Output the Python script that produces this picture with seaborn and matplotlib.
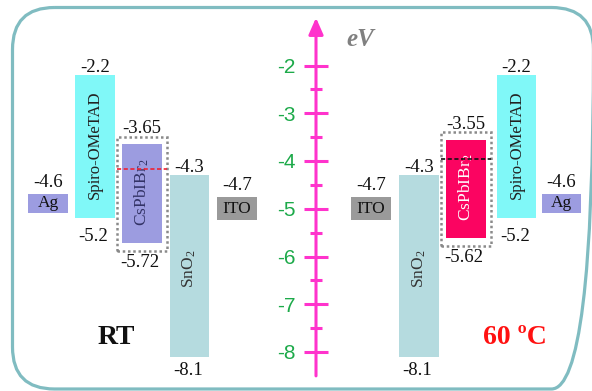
import numpy as np
import pandas as pd
import matplotlib
matplotlib.use("Agg")
import matplotlib.pyplot as plt
from matplotlib.patches import Rectangle, FancyBboxPatch
import seaborn as sns

# ---- energy levels (eV) ----
layers = ["Ag", "Spiro-OMeTAD", "CsPbIBr2", "SnO2", "ITO",
          "ITO", "SnO2", "CsPbIBr2", "Spiro-OMeTAD", "Ag"]
panel = ["RT"] * 5 + ["60"] * 5
upper = [-4.6, -2.2, -3.65, -4.3, -4.7,
         -4.7, -4.3, -3.55, -2.2, -4.6]
lower = [None, -5.2, -5.72, -8.1, None,
         None, -8.1, -5.62, -5.2, None]
fermi_rt = -4.17
fermi_60 = -3.96
axis_ticks = [-2, -3, -4, -5, -6, -7, -8]
axis_minor = [-2.5, -3.5, -4.5, -5.5, -6.5, -7.5]
tick_labels = ["-2", "-3", "-4", "-5", "-6", "-7", "-8"]

# ---- layout ----
xpos = [48, 95, 142, 189.5, 237, 371, 419, 466, 516.5, 561.5]
colors = {"Ag": "#9c9ce0", "Spiro-OMeTAD": "#80f8f8", "SnO2": "#b5dbdf",
          "ITO": "#9a9a9a", "CsPbIBr2_RT": "#9c9ce0", "CsPbIBr2_60": "#fb0461"}
W, H = 592, 391
axis_x = 316

def px2ev(y_from_top):
    return -(y_from_top + 30) / 47.75

sns.set_theme(style="white")
plt.rcParams["mathtext.fontset"] = "custom"
plt.rcParams["mathtext.rm"] = "Liberation Serif"
plt.rcParams["mathtext.it"] = "Liberation Serif:italic"
serif = ["Liberation Serif", "DejaVu Serif"]
sans = ["Liberation Sans", "DejaVu Sans"]

fig = plt.figure(figsize=(W / 100, H / 100), dpi=100)
fig.patch.set_facecolor("white")

# background frame in pixel units
bg = fig.add_axes([0, 0, 1, 1])
bg.set_xlim(0, W)
bg.set_ylim(H, 0)
bg.axis("off")
bg.add_patch(FancyBboxPatch((12.5, 7.5), 581, 381.5,
                            boxstyle="round,pad=0,rounding_size=42",
                            fill=False, edgecolor="#80bcc1", linewidth=2.3))

ax = fig.add_axes([0, 0, 1, 1])
ax.patch.set_alpha(0)

# bar extents: level boxes for metals/ITO sit just below the work function
tops, bots, fcols = [], [], []
for name, pnl, up, lo in zip(layers, panel, upper, lower):
    if name == "Ag":
        tops.append(up - 0.09); bots.append(up - 0.49)
    elif name == "ITO":
        tops.append(up - 0.06); bots.append(up - 0.54)
    else:
        tops.append(up); bots.append(lo)
    key = name if name != "CsPbIBr2" else "CsPbIBr2_" + pnl
    fcols.append(colors[key])

df = pd.DataFrame({"pos": xpos, "bottom": bots,
                   "height": np.array(tops) - np.array(bots), "color": fcols})
df = df.sort_values("pos")
sns.barplot(data=df, x="pos", y="height", native_scale=True, width=0.87,
            errorbar=None, color=colors["Ag"], bottom=df["bottom"].values,
            facecolor=list(df["color"]), linewidth=0, ax=ax)
ax.set_xlim(0, W)
ax.set_ylim(px2ev(H), px2ev(0))
ax.axis("off")

vfs = 13.5
# value labels
for name, x, up, lo, top, bot in zip(layers, xpos, upper, lower, tops, bots):
    if name == "CsPbIBr2":
        ax.annotate(f"{up:g}", (x, up), xytext=(0, 5), textcoords="offset points",
                    ha="center", va="bottom", fontsize=vfs, family=serif, color="#111")
        ax.annotate(f"{lo:g}", (x - 2, lo), xytext=(0, -8), textcoords="offset points",
                    ha="center", va="top", fontsize=vfs, family=serif, color="#111")
    elif name in ("Ag", "ITO"):
        off = -1 if name == "Ag" else 0.5
        ax.annotate(f"{up:g}", (x, up), xytext=(0, off), textcoords="offset points",
                    ha="center", va="bottom", fontsize=vfs, family=serif, color="#111")
        ax.text(x, (top + bot) / 2, name, ha="center", va="center",
                fontsize=12.5, family=serif, color="#111")
    else:
        ax.annotate(f"{up:g}", (x, up), xytext=(0, -0.5), textcoords="offset points",
                    ha="center", va="bottom", fontsize=vfs, family=serif, color="#111")
        dn = -7 if name == "Spiro-OMeTAD" else -3.5
        ax.annotate(f"{lo:g}", (x - 1.5, lo), xytext=(0, dn), textcoords="offset points",
                    ha="center", va="top", fontsize=vfs, family=serif, color="#111")

# names inside the bars
for name, pnl, x, top, bot in zip(layers, panel, xpos, tops, bots):
    if name == "Spiro-OMeTAD":
        ax.text(x, (top + bot) / 2 + 0.03, "Spiro-OMeTAD", rotation=90, ha="center",
                va="center", fontsize=12, family=serif, color="#222")
    elif name == "CsPbIBr2":
        c = "#333366" if pnl == "RT" else "white"
        ax.text(x, (top + bot) / 2 + 0.03, r"CsPbIBr$_\mathrm{2}$", rotation=90,
                ha="center", va="center", fontsize=12.5, family=serif, color=c)
    elif name == "SnO2":
        ax.text(x, -6.25, r"SnO$_\mathrm{2}$", rotation=90, ha="center",
                va="center", fontsize=12.5, family=serif, color="#333")

# dotted frames around the absorber and its Fermi level
for pnl, fermi, fcol in (("RT", fermi_rt, "#ee2233"), ("60", fermi_60, "#111111")):
    i = [k for k in range(len(layers)) if layers[k] == "CsPbIBr2" and panel[k] == pnl][0]
    x0 = xpos[i] - 25
    y_top = upper[i] + 0.15
    y_bot = lower[i] - 0.16
    ax.add_patch(Rectangle((x0, y_bot), 50, y_top - y_bot, fill=False,
                           edgecolor="#8a8a8a", linewidth=1.8,
                           linestyle=(0, (1, 1.1)), zorder=3))
    ax.plot([x0, x0 + 50], [fermi, fermi], color=fcol, lw=1.2,
            ls=(0, (2.5, 1.5)), zorder=4)

# energy axis
mag = "#ff33cc"
ax.annotate("", xy=(axis_x, -1.0), xytext=(axis_x, -8.5),
            arrowprops=dict(arrowstyle="-|>,head_length=0.5,head_width=0.22",
                            mutation_scale=20, color=mag, lw=2.2,
                            shrinkA=0, shrinkB=0))
ax.hlines(axis_ticks, axis_x - 12, axis_x + 12, color=mag, lw=2.2)
ax.hlines(axis_minor, axis_x - 6, axis_x + 6, color=mag, lw=2.2)
for v, lab in zip(axis_ticks, tick_labels):
    ax.text(axis_x - 20, v - 0.04, lab, ha="right", va="center", fontsize=15,
            family=sans, color="#1daa4a")
ax.text(360, px2ev(39), "eV", ha="center", va="center", fontsize=18,
        family=serif, style="italic", weight="bold", color="#808080")

ax.text(116, px2ev(337), "RT", ha="center", va="center", fontsize=20,
        family=serif, weight="bold", color="#111")
ax.text(515, px2ev(337), "60 ºC", ha="center", va="center", fontsize=20,
        family=serif, weight="bold", color="#ff1111")

fig.savefig("out.png", dpi=100, facecolor="white")
